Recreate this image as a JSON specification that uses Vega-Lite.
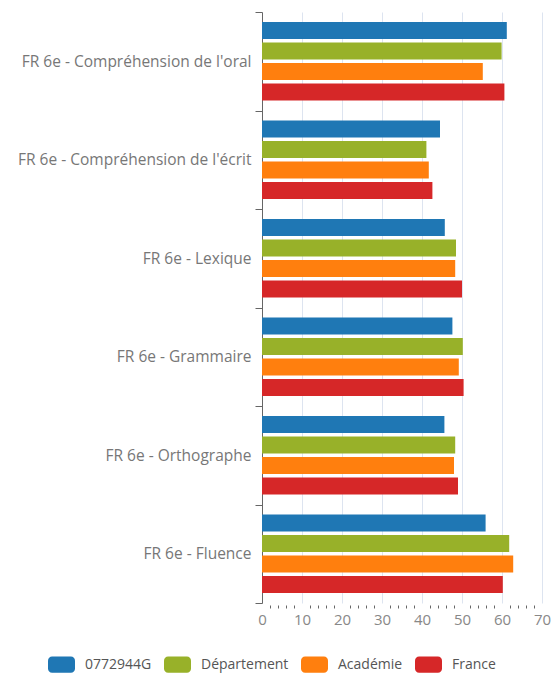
{
  "$schema": "https://vega.github.io/schema/vega-lite/v6.json",
  "autosize": "none",
  "width": 280,
  "height": 591,
  "padding": {"left": 262, "top": 12, "right": 14, "bottom": 72},
  "background": "white",
  "config": {
    "view": {"stroke": null},
    "font": "Open Sans",
    "axis": {"labelFont": "Open Sans", "labelColor": "#777777"}
  },
  "data": {
    "values": [
      {"cat": "FR 6e - Compréhension de l'oral", "serie": "0772944G", "value": 61.2},
      {"cat": "FR 6e - Compréhension de l'oral", "serie": "Département", "value": 59.9},
      {"cat": "FR 6e - Compréhension de l'oral", "serie": "Académie", "value": 55.2},
      {"cat": "FR 6e - Compréhension de l'oral", "serie": "France", "value": 60.6},
      {"cat": "FR 6e - Compréhension de l'écrit", "serie": "0772944G", "value": 44.5},
      {"cat": "FR 6e - Compréhension de l'écrit", "serie": "Département", "value": 41.1},
      {"cat": "FR 6e - Compréhension de l'écrit", "serie": "Académie", "value": 41.7},
      {"cat": "FR 6e - Compréhension de l'écrit", "serie": "France", "value": 42.6},
      {"cat": "FR 6e - Lexique", "serie": "0772944G", "value": 45.7},
      {"cat": "FR 6e - Lexique", "serie": "Département", "value": 48.5},
      {"cat": "FR 6e - Lexique", "serie": "Académie", "value": 48.3},
      {"cat": "FR 6e - Lexique", "serie": "France", "value": 50.0},
      {"cat": "FR 6e - Grammaire", "serie": "0772944G", "value": 47.6},
      {"cat": "FR 6e - Grammaire", "serie": "Département", "value": 50.2},
      {"cat": "FR 6e - Grammaire", "serie": "Académie", "value": 49.2},
      {"cat": "FR 6e - Grammaire", "serie": "France", "value": 50.4},
      {"cat": "FR 6e - Orthographe", "serie": "0772944G", "value": 45.6},
      {"cat": "FR 6e - Orthographe", "serie": "Département", "value": 48.3},
      {"cat": "FR 6e - Orthographe", "serie": "Académie", "value": 48.0},
      {"cat": "FR 6e - Orthographe", "serie": "France", "value": 49.0},
      {"cat": "FR 6e - Fluence", "serie": "0772944G", "value": 55.9},
      {"cat": "FR 6e - Fluence", "serie": "Département", "value": 61.8},
      {"cat": "FR 6e - Fluence", "serie": "Académie", "value": 62.8},
      {"cat": "FR 6e - Fluence", "serie": "France", "value": 60.2}
    ]
  },
  "layer": [
    {
      "mark": {"type": "bar"},
      "encoding": {
        "y": {
          "field": "cat", "type": "nominal", "sort": null,
          "scale": {"paddingInner": 0, "paddingOuter": 0},
          "axis": {
            "title": null, "tickBand": "extent", "tickSize": 7, "tickColor": "#666666",
            "domainColor": "#666666", "labelFontSize": 15.5, "labelPadding": 4,
            "labelLimit": 300, "grid": false
          }
        },
        "yOffset": {
          "field": "serie", "sort": ["0772944G", "Département", "Académie", "France"],
          "scale": {"paddingInner": 0.17, "paddingOuter": 0.49}
        },
        "x": {
          "field": "value", "type": "quantitative",
          "scale": {"domain": [0, 70], "nice": false},
          "axis": {
            "title": null, "orient": "bottom", "values": [0, 10, 20, 30, 40, 50, 60, 70], "ticks": false,
            "domain": false, "grid": true, "gridColor": "#dde4f0", "labelFontSize": 15,
            "labelPadding": 9, "labelColor": "#888888", "labelFlush": false
          }
        },
        "color": {
          "field": "serie", "type": "nominal",
          "sort": ["0772944G", "Département", "Académie", "France"],
          "scale": {
            "domain": ["0772944G", "Département", "Académie", "France"],
            "range": ["#1f77b4", "#98b129", "#ff7f0e", "#d62728"]
          },
          "legend": {
            "title": null, "orient": "none", "direction": "horizontal",
            "legendX": -214, "legendY": 639,
            "symbolType": "M-0.7,-0.6 H0.7 A0.3,0.3 0 0 1 1,-0.3 V0.3 A0.3,0.3 0 0 1 0.7,0.6 H-0.7 A0.3,0.3 0 0 1 -1,0.3 V-0.3 A0.3,0.3 0 0 1 -0.7,-0.6 Z",
            "symbolSize": 729, "symbolStrokeWidth": 0, "symbolOpacity": 1,
            "labelFontSize": 14, "labelColor": "#555555", "labelFont": "Open Sans",
            "labelOffset": 10, "columnPadding": 12
          }
        }
      }
    },
    {
      "mark": {"type": "bar", "opacity": 0},
      "encoding": {
        "x": {
          "field": "value", "type": "quantitative",
          "axis": {
            "title": null, "orient": "bottom",
            "values": [2, 4, 6, 8, 12, 14, 16, 18, 22, 24, 26, 28, 32, 34, 36, 38, 42, 44, 46, 48, 52, 54, 56, 58, 62, 64, 66, 68],
            "labels": false, "domain": false, "grid": false, "tickSize": 3,
            "tickColor": "#666666", "offset": 2
          }
        }
      }
    }
  ],
  "resolve": {"axis": {"x": "independent"}}
}
